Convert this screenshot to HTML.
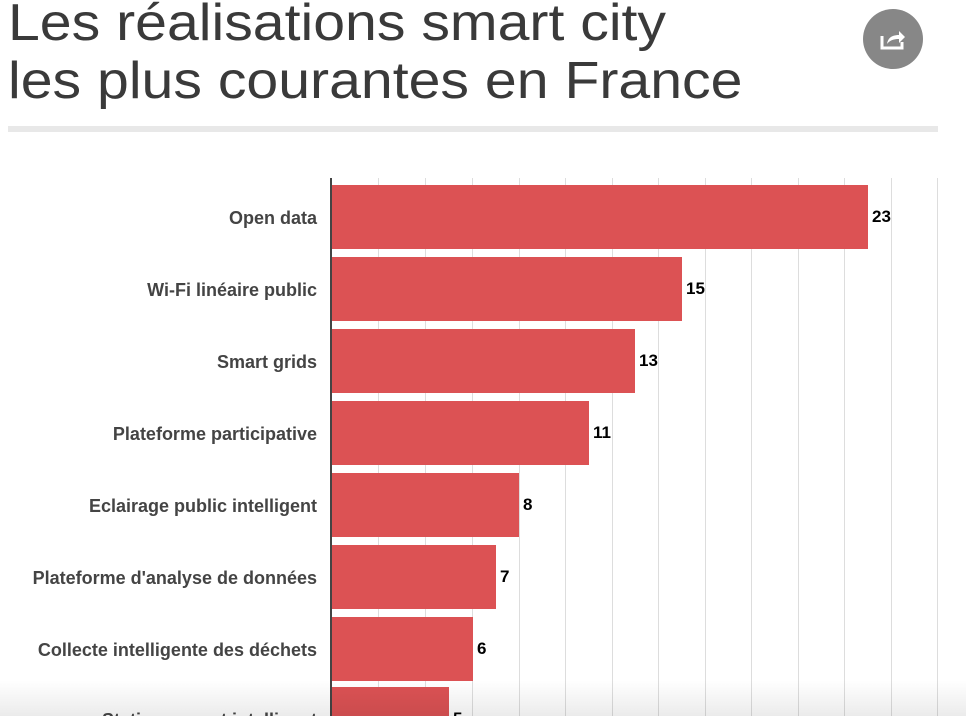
<!DOCTYPE html>
<html><head><meta charset="utf-8"><style>
body{margin:0;width:966px;height:716px;overflow:hidden;background:#fff;font-family:"Liberation Sans",sans-serif;position:relative}
.t{position:absolute;left:8px;top:-6px;font-size:52px;line-height:58px;color:#3a3a3a;transform:scaleX(1.1);transform-origin:0 0;white-space:nowrap}
</style></head><body>
<div class="t">Les réalisations smart city<br>les plus courantes en France</div>
<div style="position:absolute;left:863px;top:9px;width:60px;height:60px;border-radius:50%;background:#878787"></div>
<svg style="position:absolute;left:878px;top:24px" width="30" height="30" viewBox="0 0 30 30"><path d="M4 12v12h20v-6" fill="none" stroke="#fff" stroke-width="3"/><path d="M9 20c1-7 6-9 12-9v-4l6 6-6 6v-4c-5 0-9 1-12 5z" fill="#fff"/></svg>
<div style="position:absolute;left:8px;top:126px;width:930px;height:6px;background:#e8e8e8"></div>
<svg style="position:absolute;left:0;top:0" width="966" height="716">
<g stroke="#ddd" stroke-width="1">
<line x1="378.5" y1="178" x2="378.5" y2="716"/><line x1="425.5" y1="178" x2="425.5" y2="716"/><line x1="472.5" y1="178" x2="472.5" y2="716"/><line x1="519.5" y1="178" x2="519.5" y2="716"/><line x1="565.5" y1="178" x2="565.5" y2="716"/><line x1="612.5" y1="178" x2="612.5" y2="716"/><line x1="658.5" y1="178" x2="658.5" y2="716"/><line x1="705.5" y1="178" x2="705.5" y2="716"/><line x1="751.5" y1="178" x2="751.5" y2="716"/><line x1="798.5" y1="178" x2="798.5" y2="716"/><line x1="844.5" y1="178" x2="844.5" y2="716"/><line x1="891.5" y1="178" x2="891.5" y2="716"/><line x1="937.5" y1="178" x2="937.5" y2="716"/>
</g>
<g fill="#dc5254">
<rect x="332" y="185" width="536" height="64"/>
<rect x="332" y="257" width="350" height="64"/>
<rect x="332" y="329" width="303" height="64"/>
<rect x="332" y="401" width="257" height="64"/>
<rect x="332" y="473" width="187" height="64"/>
<rect x="332" y="545" width="164" height="64"/>
<rect x="332" y="617" width="141" height="64"/>
<rect x="332" y="687" width="117" height="64"/>
</g>
<line x1="331" y1="178" x2="331" y2="716" stroke="#444" stroke-width="2"/>
<g font-size="18" fill="#444" font-weight="bold" text-anchor="end">
<text x="317" y="224">Open data</text>
<text x="317" y="296">Wi-Fi linéaire public</text>
<text x="317" y="368">Smart grids</text>
<text x="317" y="440">Plateforme participative</text>
<text x="317" y="512">Eclairage public intelligent</text>
<text x="317" y="584">Plateforme d'analyse de données</text>
<text x="317" y="656">Collecte intelligente des déchets</text>
<text x="317" y="726">Stationnement intelligent</text>
</g>
<g font-size="17" fill="#000" font-weight="bold">
<text x="872" y="222">23</text>
<text x="686" y="294">15</text>
<text x="639" y="366">13</text>
<text x="593" y="438">11</text>
<text x="523" y="510">8</text>
<text x="500" y="582">7</text>
<text x="477" y="654">6</text>
<text x="453" y="724">5</text>
</g>
</svg>
<div style="position:absolute;left:0;top:680px;width:966px;height:36px;background:linear-gradient(rgba(0,0,0,0),rgba(0,0,0,0.08))"></div>
</body></html>
